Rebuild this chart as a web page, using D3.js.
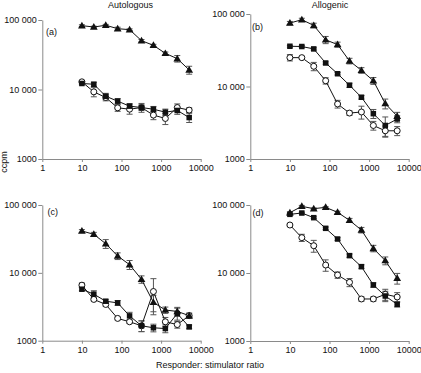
<!DOCTYPE html>
<html><head><meta charset="utf-8">
<script src="https://cdn.jsdelivr.net/npm/d3@7"></script>
<style>
html,body{margin:0;padding:0;background:#fff;}
svg{display:block;font-family:"Liberation Sans",Arial,sans-serif;}
</style></head>
<body>
<svg id="chart" width="421" height="373"></svg>
<script>
// ratios (responder : stimulator)
const ratios = [10, 20, 40, 80, 160, 320, 640, 1280, 2560, 5120];
const xTickValues = [1, 10, 100, 1000, 10000];
const xTickLabels = ["1", "10", "100", "1000", "10000"];
const yTickValues = [1000, 10000, 100000];
const yTickLabels = ["1000", "10 000", "100 000"];
const columnTitles = ["Autologous", "Allogenic"];
const panelLabels = ["(a)", "(b)", "(c)", "(d)"];

// Panel (a) Autologous
const aTri = [82900, 79300, 84000, 75000, 72600, 50400, 43200, 33100, 27800, 19100];
const aTriErr = [2500, 2000, 2500, 3700, 2000, 2000, 1500, 1500, 3000, 2500];
const aSq = [12200, 11900, 8000, 6800, 5760, 5500, 5200, 4720, 4990, 3950];
const aSqErr = [500, 800, 800, 600, 500, 800, 500, 500, 600, 600];
const aCirc = [12900, 9250, 7670, 5450, 5210, 5500, 4280, 3830, 5500, 5050];
const aCircErr = [500, 1400, 800, 600, 800, 500, 600, 700, 700, 400];

// Panel (b) Allogenic
const bTri = [75000, 83400, 69600, 44000, 37900, 22500, 16700, 12000, 5810, 3900];
const bTriErr = [4000, 4000, 5000, 5000, 3000, 2000, 1500, 1300, 900, 500];
const bSq = [35900, 35600, 33000, 21100, 15000, 10400, 7110, 4220, 2900, 3560];
const bSqErr = [1000, 1000, 1200, 800, 600, 700, 400, 600, 900, 400];
const bCirc = [25000, 25000, 19000, 12000, 5740, 4300, 4450, 2900, 2450, 2450];
const bCircErr = [2500, 1000, 2500, 1200, 700, 300, 900, 400, 400, 350];

// Panel (c) Autologous
const cTri = [41400, 37000, 26900, 17700, 13200, 8020, 3670, 2830, 2700, 2340];
const cTriErr = [2000, 2500, 4000, 2000, 2000, 1000, 1000, 300, 400, 200];
const cSq = [5740, 4850, 3820, 3610, 2320, 1660, 1550, 1510, 2510, 1600];
const cSqErr = [300, 600, 200, 300, 300, 300, 200, 200, 500, 100];
const cCirc = [6580, 4060, 3420, 2130, 1900, 1660, 5310, 1900, 1730, 2340];
const cCircErr = [500, 200, 200, 100, 100, 300, 2900, 300, 200, 200];

// Panel (d) Allogenic
const dTri = [77100, 95600, 88300, 92400, 78000, 59500, 42800, 23000, 15200, 8360];
const dTriErr = [2000, 3000, 2000, 2000, 3000, 4000, 4000, 2500, 2000, 1500];
const dSq = [72900, 76200, 65100, 45400, 31600, 18000, 12400, 6670, 4590, 3460];
const dSqErr = [2000, 2000, 2000, 2000, 1500, 1000, 800, 500, 800, 300];
const dCirc = [50800, 33100, 25200, 13100, 9350, 7300, 4150, 4150, 4860, 4440];
const dCircErr = [2000, 4000, 5000, 2500, 1000, 1000, 300, 300, 900, 700];

const panels = [
  {label: panelLabels[0], x0: 42.3, x1: 200.7, yTop: 20, yBot: 159, lx: 46, ly: 35,
   series: [{shape: "circle", v: aCirc, e: aCircErr}, {shape: "square", v: aSq, e: aSqErr}, {shape: "triangle", v: aTri, e: aTriErr}]},
  {label: panelLabels[1], x0: 250.3, x1: 408.7, yTop: 14, yBot: 159, lx: 252, ly: 30,
   series: [{shape: "circle", v: bCirc, e: bCircErr}, {shape: "square", v: bSq, e: bSqErr}, {shape: "triangle", v: bTri, e: bTriErr}]},
  {label: panelLabels[2], x0: 42.3, x1: 200.7, yTop: 205, yBot: 340.7, lx: 47.5, ly: 215,
   series: [{shape: "circle", v: cCirc, e: cCircErr}, {shape: "square", v: cSq, e: cSqErr}, {shape: "triangle", v: cTri, e: cTriErr}]},
  {label: panelLabels[3], x0: 250.3, x1: 408.7, yTop: 205, yBot: 341, lx: 252.5, ly: 216,
   series: [{shape: "circle", v: dCirc, e: dCircErr}, {shape: "square", v: dSq, e: dSqErr}, {shape: "triangle", v: dTri, e: dTriErr}]}
];

const svg = d3.select("#chart");
const axisColor = "#8a8a8a";
const fs = 9;

panels.forEach(p => {
  const x = d3.scaleLog().domain([1, 10000]).range([p.x0, p.x1]);
  const y = d3.scaleLog().domain([1000, 100000]).range([p.yBot, p.yTop]);
  const g = svg.append("g");

  const xa = g.append("g").attr("transform", `translate(0,${p.yBot})`)
    .call(d3.axisBottom(x).tickValues(xTickValues)
      .tickFormat((d, i) => xTickLabels[i]).tickSizeInner(3).tickSizeOuter(0).tickPadding(3));
  const ya = g.append("g").attr("transform", `translate(${p.x0},0)`)
    .call(d3.axisLeft(y).tickValues(yTickValues)
      .tickFormat((d, i) => yTickLabels[i]).tickSizeInner(4).tickSizeOuter(0).tickPadding(1.5));
  [xa, ya].forEach(a => {
    a.select(".domain").attr("stroke", axisColor).attr("stroke-width", 1);
    a.selectAll(".tick line").attr("stroke", axisColor);
    a.selectAll(".tick text").attr("fill", "#111").style("font-size", fs + "px")
      .style("font-family", "'Liberation Sans',Arial,sans-serif");
  });

  g.append("text").attr("x", p.lx).attr("y", p.ly).text(p.label)
    .style("font-size", fs + "px").attr("fill", "#111");

  p.series.forEach(s => {
    const pts = ratios.map((r, i) => ({r, v: s.v[i], e: s.e[i]}));
    const eb = g.append("g").attr("stroke", "#555").attr("stroke-width", 1);
    pts.forEach(d => {
      const cx = x(d.r);
      const yh = y(d.v + d.e), yl = y(Math.max(d.v - d.e, 1001));
      eb.append("line").attr("x1", cx).attr("x2", cx).attr("y1", yh).attr("y2", yl);
      eb.append("line").attr("x1", cx - 3).attr("x2", cx + 3).attr("y1", yh).attr("y2", yh);
      eb.append("line").attr("x1", cx - 3).attr("x2", cx + 3).attr("y1", yl).attr("y2", yl);
    });
  });
  p.series.forEach(s => {
    const pts = ratios.map((r, i) => ({r, v: s.v[i]}));
    g.append("path").datum(pts)
      .attr("d", d3.line().x(d => x(d.r)).y(d => y(d.v)))
      .attr("fill", "none").attr("stroke", "#111").attr("stroke-width", 1);
  });
  p.series.forEach(s => {
    const pts = ratios.map((r, i) => ({r, v: s.v[i]}));
    const mg = g.append("g");
    pts.forEach(d => {
      const cx = x(d.r), cy = y(d.v);
      if (s.shape === "circle") {
        mg.append("circle").attr("cx", cx).attr("cy", cy).attr("r", 3)
          .attr("fill", "#fff").attr("stroke", "#111").attr("stroke-width", 1);
      } else if (s.shape === "square") {
        mg.append("rect").attr("x", cx - 2.75).attr("y", cy - 2.75).attr("width", 5.5).attr("height", 5.5)
          .attr("fill", "#111");
      } else {
        mg.append("path").attr("d", d3.symbol(d3.symbolTriangle, 26)())
          .attr("transform", `translate(${cx},${cy + 0.5})`).attr("fill", "#111");
      }
    });
  });
});

// column titles
svg.append("text").attr("x", 130.5).attr("y", 8).attr("text-anchor", "middle")
  .style("font-size", fs + "px").attr("fill", "#111").text(columnTitles[0]);
svg.append("text").attr("x", 330).attr("y", 8).attr("text-anchor", "middle")
  .style("font-size", fs + "px").attr("fill", "#111").text(columnTitles[1]);
// axis titles
svg.append("text").attr("transform", "translate(6.5,162) rotate(-90)").attr("text-anchor", "middle")
  .style("font-size", fs + "px").attr("fill", "#111").text("ccpm");
svg.append("text").attr("x", 210).attr("y", 368).attr("text-anchor", "middle")
  .style("font-size", fs + "px").attr("fill", "#111").text("Responder: stimulator ratio");
</script>
</body></html>
